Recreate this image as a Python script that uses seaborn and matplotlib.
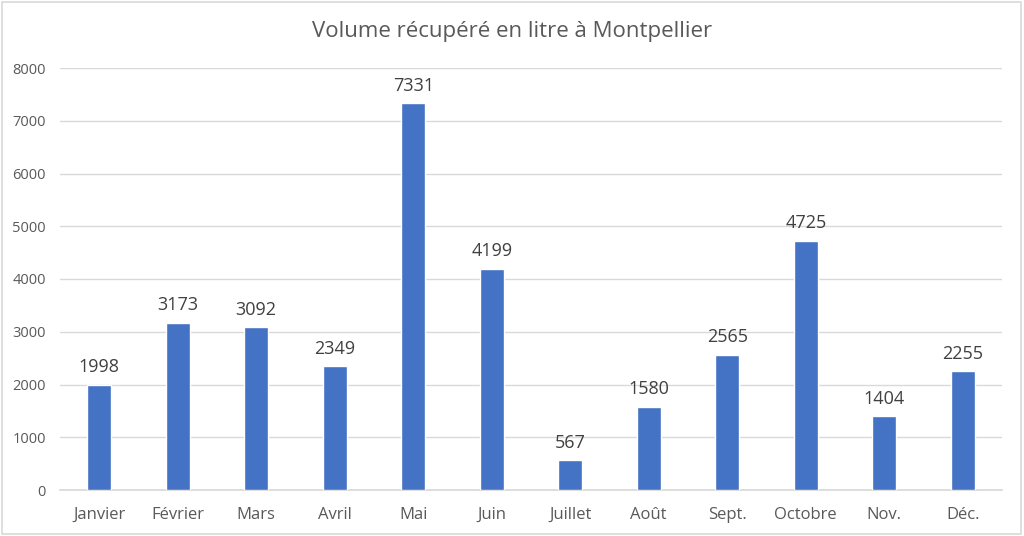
import matplotlib
matplotlib.use("Agg")
import matplotlib.pyplot as plt
import seaborn as sns
import pandas as pd
from matplotlib.patches import Rectangle

months = ["Janvier", "Février", "Mars", "Avril", "Mai", "Juin", "Juillet", "Août",
          "Sept.", "Octobre", "Nov.", "Déc."]
volumes = [1998, 3173, 3092, 2349, 7331, 4199, 567, 1580, 2565, 4725, 1404, 2255]
yticks = [0, 1000, 2000, 3000, 4000, 5000, 6000, 7000, 8000]

sns.set_theme(style="white")
plt.rcParams['font.family'] = ['Open Sans', 'DejaVu Sans']

df = pd.DataFrame({"mois": months, "volume": volumes})

fig = plt.figure(figsize=(10.24, 5.36), dpi=100)
ax = fig.add_axes([60/1024, 1-490/536, 942/1024, (490-68)/536])

sns.barplot(data=df, x="mois", y="volume", color="#4472C4", width=0.31,
            saturation=1, ax=ax, zorder=3)

ax.set_ylim(0, 8000)
ax.set_yticks(yticks)
ax.set_yticklabels([str(t) for t in yticks], color="#595959", fontsize=10.5)
ax.tick_params(axis='x', colors="#595959", labelsize=12, length=0, pad=12)
ax.tick_params(axis='y', length=0, pad=10)
ax.set_xlim(-0.5, len(months)-0.5)
ax.yaxis.grid(True, color="#D9D9D9", linewidth=1, zorder=0)
ax.set_xlabel("")
ax.set_ylabel("")
for s in ["top", "right", "left"]:
    ax.spines[s].set_visible(False)
ax.spines["bottom"].set_color("#D9D9D9")

for i, v in enumerate(volumes):
    ax.annotate(str(v), (i, v), xytext=(0, 6), textcoords="offset points",
                ha="center", va="bottom", fontsize=13, color="#404040")

fig.text(0.5, 1-32/536, "Volume récupéré en litre à Montpellier", ha="center",
         va="center", fontsize=16, color="#595959")

fig.patches.append(Rectangle((0.002, 0.003), 0.995, 0.994, transform=fig.transFigure,
                             fill=False, edgecolor="#D9D9D9", linewidth=1.2))

fig.savefig("out.png", dpi=100)
